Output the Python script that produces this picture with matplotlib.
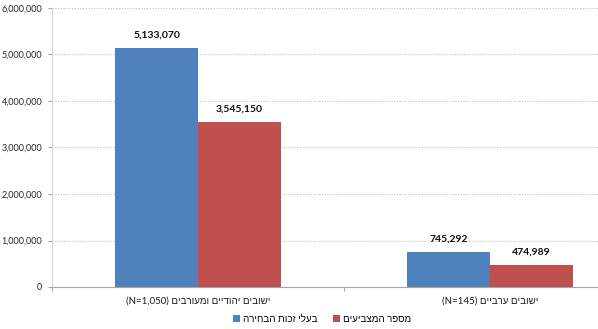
import numpy as np
from matplotlib import pyplot as plt
from matplotlib.ticker import FuncFormatter

plt.rcParams['font.family'] = ['Lato', 'Liberation Sans', 'DejaVu Sans']


def rtl(heb, ltr=''):
    # matplotlib has no bidi support: put the Hebrew run in visual order
    return (ltr + ' ' if ltr else '') + heb[::-1]


categories = [rtl('ישובים יהודיים ומעורבים', '(N=1,050)'),
              rtl('ישובים ערביים', '(N=145)')]
series_names = [rtl('בעלי זכות הבחירה'), rtl('מספר המצביעים')]
eligible = [5133070, 745292]
voters = [3545150, 474989]
colors = ['#4F81BD', '#C0504D']
yticks = [0, 1000000, 2000000, 3000000, 4000000, 5000000, 6000000]

fig = plt.figure(figsize=(5.98, 3.29), dpi=100)
ax = fig.add_axes([52/598, 1-287/329, 584/598, 279/329])

x = np.arange(len(categories))
w = 0.284
for i, (vals, c, name) in enumerate(zip([eligible, voters], colors, series_names)):
    pos = x + (i - 0.5) * w
    ax.bar(pos, vals, width=w, color=c, label=name, zorder=3)
    for p, v in zip(pos, vals):
        ax.annotate(f'{v:,}', (p, v), xytext=(0, 6), textcoords='offset points',
                    ha='center', va='bottom', fontsize=7.5, fontweight='bold',
                    color='#0d0d0d')

ax.set_xlim(-0.5, 1.5)
ax.set_ylim(0, 6000000)
ax.set_yticks(yticks)
ax.yaxis.set_major_formatter(FuncFormatter(lambda v, p: f'{int(v):,}'))
ax.grid(axis='y', color='#bfbfbf', linestyle=(0, (1, 1.5)), linewidth=0.8, zorder=0)

ax.set_xticks([-0.5, 0.5, 1.5])
ax.set_xticklabels([])
ax.set_xticks(x, minor=True)
ax.set_xticklabels(categories, minor=True, fontsize=7, color='#1a1a1a')
ax.tick_params(axis='x', which='minor', length=0, pad=7)
ax.tick_params(axis='x', which='major', length=3, color='#a6a6a6')
ax.tick_params(axis='y', length=3, color='#a6a6a6', labelsize=6.5,
               labelcolor='#262626', pad=4)

for s in ['top', 'right']:
    ax.spines[s].set_visible(False)
ax.spines['left'].set_color('#d9d9d9')
ax.spines['bottom'].set_color('#a6a6a6')

fig.legend(loc='center', bbox_to_anchor=(322/598, 1-319/329), ncol=2, frameon=False,
           fontsize=7, handlelength=0.7, handleheight=0.7, handletextpad=0.3,
           columnspacing=1.6, borderpad=0)

fig.savefig('out.png', dpi=100)
